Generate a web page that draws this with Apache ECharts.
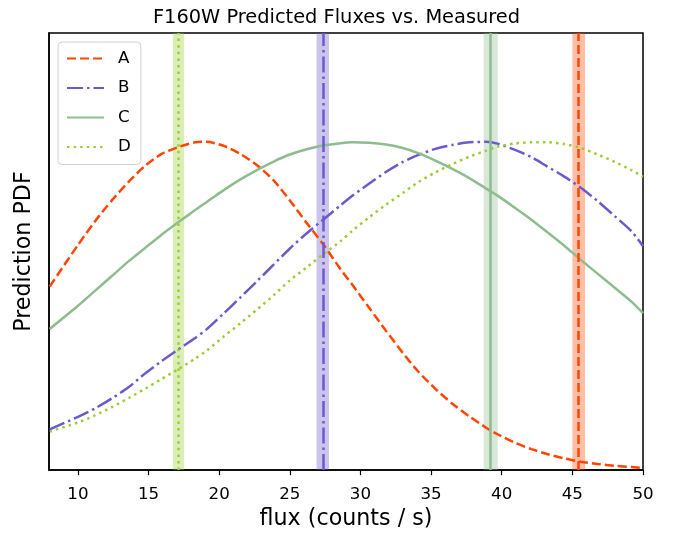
<!DOCTYPE html>
<html>
<head>
<meta charset="utf-8">
<title>F160W Predicted Fluxes vs. Measured</title>
<script src="https://cdn.jsdelivr.net/npm/echarts@6/dist/echarts.min.js"></script>
<style>
    html, body { margin: 0; padding: 0; background: #fff; }
    #main { width: 673px; height: 535px; }
</style>
</head>
<body>
<div id="main"></div>
<script>
// flux grid the curves were read on (counts / s)
var flux = [8, 10, 11.2, 12.4, 13.6, 14.75, 15.9, 17.1, 18.3, 19.1, 20.3, 21.5, 22.7, 23.85, 25, 26.2, 27.4, 28.6, 29.4,
    30.6, 31.8, 33, 34.1, 35.3, 36.5, 37.7, 38.9, 39.7, 40.9, 42.1, 43.2, 44.4, 45.6, 46.8, 48, 49.2, 50];

// prediction pdf, relative units (plot top = 1)
var pdfA = [0.420, 0.515, 0.569, 0.617, 0.660, 0.696, 0.723, 0.739, 0.750, 0.751, 0.742, 0.723, 0.697, 0.663, 0.617, 0.565,
    0.515, 0.459, 0.425, 0.372, 0.319, 0.268, 0.225, 0.186, 0.152, 0.123, 0.097, 0.082, 0.063, 0.048, 0.037, 0.027,
    0.019, 0.014, 0.010, 0.007, 0.005];
var pdfB = [0.093, 0.122, 0.141, 0.164, 0.190, 0.221, 0.249, 0.276, 0.302, 0.322, 0.358, 0.395, 0.433, 0.470, 0.507, 0.542,
    0.574, 0.606, 0.627, 0.655, 0.682, 0.705, 0.721, 0.735, 0.744, 0.750, 0.751, 0.747, 0.733, 0.716, 0.695, 0.672,
    0.646, 0.615, 0.581, 0.546, 0.512];
var pdfC = [0.323, 0.376, 0.410, 0.444, 0.478, 0.508, 0.538, 0.567, 0.595, 0.613, 0.640, 0.665, 0.687, 0.706, 0.722, 0.734,
    0.743, 0.748, 0.750, 0.749, 0.745, 0.737, 0.725, 0.708, 0.689, 0.668, 0.644, 0.628, 0.601, 0.573, 0.545, 0.514,
    0.481, 0.449, 0.417, 0.385, 0.359];
var pdfD = [0.088, 0.109, 0.125, 0.144, 0.165, 0.186, 0.208, 0.231, 0.255, 0.273, 0.305, 0.336, 0.368, 0.400, 0.434, 0.464,
    0.495, 0.524, 0.547, 0.578, 0.607, 0.634, 0.659, 0.681, 0.700, 0.717, 0.731, 0.740, 0.747, 0.750, 0.750, 0.746,
    0.737, 0.722, 0.705, 0.686, 0.671];

var names = ['A', 'B', 'C', 'D'];
var measured = [45.45, 27.33, 39.22, 17.12];
var measuredErr = [0.45, 0.44, 0.5, 0.4];
var xTicks = [10, 15, 20, 25, 30, 35, 40, 45, 50];

var colors = ['#FF4500', '#6A5ACD', '#8FBC8F', '#9ACD32'];
var bandColors = ['rgba(255,69,0,0.35)', 'rgba(106,90,205,0.35)', 'rgba(143,188,143,0.35)', 'rgba(154,205,50,0.35)'];
var dashes = [[9, 4], [16, 4, 2.5, 4], 'solid', [2.5, 4.1]];
var FONT = 'DejaVu Sans';

var chart = echarts.init(document.getElementById('main'), null, {renderer: 'canvas'});

function pairs(xs, ys) {
    var out = [];
    for (var i = 0; i < xs.length; i++) {
        out.push([xs[i], ys[i]]);
    }
    return out;
}

var pdfs = [pdfA, pdfB, pdfC, pdfD];
var series = [];
for (var k = 0; k < names.length; k++) {
    var ls = {color: colors[k], width: 2.5, type: dashes[k], cap: 'butt'};
    series.push({
        name: names[k],
        type: 'line',
        data: pairs(flux, pdfs[k]),
        symbol: 'none',
        smooth: 0.25,
        color: colors[k],
        lineStyle: ls,
        emphasis: {disabled: true},
        markArea: {
            silent: true,
            itemStyle: {color: bandColors[k]},
            data: [[{xAxis: measured[k] - measuredErr[k]}, {xAxis: measured[k] + measuredErr[k]}]]
        },
        markLine: {
            silent: true,
            symbol: ['none', 'none'],
            label: {show: false},
            lineStyle: ls,
            emphasis: {disabled: true},
            data: [{xAxis: measured[k]}]
        }
    });
}

var option = {
    animation: false,
    backgroundColor: '#fff',
    title: {
        text: 'F160W Predicted Fluxes vs. Measured',
        left: 'center',
        top: 3,
        textStyle: {fontFamily: FONT, fontSize: 19.4, fontWeight: 'normal', color: '#000'}
    },
    legend: {
        orient: 'vertical',
        left: 58,
        top: 42,
        data: names,
        itemWidth: 37,
        itemHeight: 14,
        itemGap: 12.5,
        padding: [8, 10, 9, 8],
        borderColor: '#d0d0d0',
        borderWidth: 1,
        borderRadius: 4,
        backgroundColor: 'rgba(255,255,255,0.8)',
        selectedMode: false,
        itemStyle: {color: 'rgba(0,0,0,0)', borderWidth: 0, opacity: 0},
        textStyle: {fontFamily: FONT, fontSize: 16.7, color: '#000', padding: [0, 0, 0, 9]}
    },
    grid: {
        left: 49,
        right: 30,
        top: 33,
        bottom: 61,
        show: true,
        borderColor: '#000',
        borderWidth: 1.5,
        containLabel: false
    },
    xAxis: {
        type: 'value',
        min: 7.95,
        max: 50,
        name: 'flux (counts / s)',
        nameLocation: 'middle',
        nameGap: 21,
        nameTextStyle: {fontFamily: FONT, fontSize: 22.2, color: '#000'},
        axisLine: {show: true, onZero: false, lineStyle: {color: '#000', width: 1.5}},
        axisTick: {show: true, inside: false, length: 5, customValues: xTicks, lineStyle: {color: '#000', width: 1.2}},
        axisLabel: {fontFamily: FONT, fontSize: 16.7, color: '#000', margin: 16, customValues: xTicks},
        splitLine: {show: false}
    },
    yAxis: {
        type: 'value',
        min: 0,
        max: 1,
        name: 'Prediction PDF',
        nameLocation: 'middle',
        nameGap: 14,
        nameTextStyle: {fontFamily: FONT, fontSize: 22.2, color: '#000'},
        axisLine: {show: true, lineStyle: {color: '#000', width: 1.5}},
        axisTick: {show: false},
        axisLabel: {show: false},
        splitLine: {show: false}
    },
    series: series
};

chart.setOption(option);
</script>
</body>
</html>
